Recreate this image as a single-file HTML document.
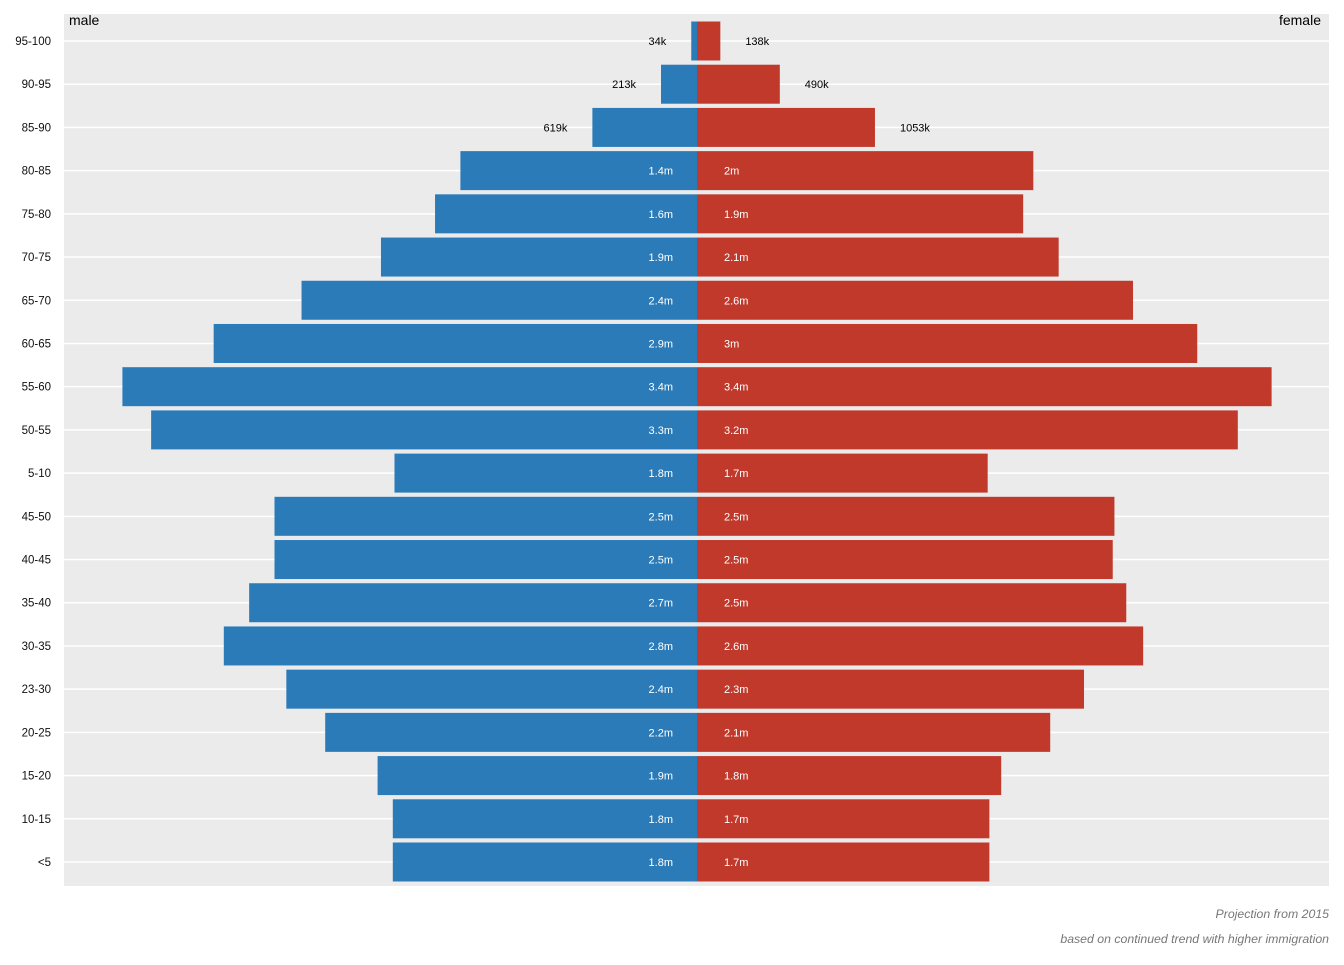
<!DOCTYPE html>
<html><head><meta charset="utf-8"><style>
body{margin:0;background:#fff;font-family:"Liberation Sans",sans-serif}
</style></head><body>
<svg id="chart" width="1344" height="960" xmlns="http://www.w3.org/2000/svg" font-family="Liberation Sans, sans-serif"></svg>
<script>
const categories=["95-100","90-95","85-90","80-85","75-80","70-75","65-70","60-65","55-60","50-55","5-10","45-50","40-45","35-40","30-35","23-30","20-25","15-20","10-15","<5"];
const maleValues=[0.034,0.213,0.619,1.40,1.55,1.87,2.34,2.86,3.40,3.23,1.79,2.50,2.50,2.65,2.80,2.43,2.20,1.89,1.80,1.80];
const femaleValues=[0.138,0.490,1.053,1.99,1.93,2.14,2.58,2.96,3.40,3.20,1.72,2.47,2.46,2.54,2.64,2.29,2.09,1.80,1.73,1.73];
const maleLabels=["34k","213k","619k","1.4m","1.6m","1.9m","2.4m","2.9m","3.4m","3.3m","1.8m","2.5m","2.5m","2.7m","2.8m","2.4m","2.2m","1.9m","1.8m","1.8m"];
const femaleLabels=["138k","490k","1053k","2m","1.9m","2.1m","2.6m","3m","3.4m","3.2m","1.7m","2.5m","2.5m","2.5m","2.6m","2.3m","2.1m","1.8m","1.7m","1.7m"];
const svg=document.getElementById('chart');const NS="http://www.w3.org/2000/svg";
function mk(t,a,p){const e=document.createElementNS(NS,t);for(const k in a)e.setAttribute(k,a[k]);(p||svg).appendChild(e);return e;}
const cx=697, pxPerM=169;
const xs=v=>v*pxPerM;
const y0=41, step=(862-41)/(categories.length-1), bh=39;
const ys=i=>y0+i*step;
const bg=mk('rect',{x:64,y:14,width:1265,height:872,fill:'#ebebeb'});


categories.forEach((c,i)=>{
  const y=ys(i);
  const g=mk('line',{x1:64,x2:1329,y1:y,y2:y,stroke:'#fff','stroke-width':1.5});
  
  
  const t=mk('text',{x:51,y:y+4,'text-anchor':'end','font-size':11.5,fill:'#111'});t.textContent=c;
  
  
});
categories.forEach((c,i)=>{
  const y=ys(i);
  const mw=xs(maleValues[i]), fw=xs(femaleValues[i]);
  const mb=mk('rect',{x:cx-mw,y:y-bh/2,width:mw,height:bh,fill:'#2b7bb9'});
  
  
  const fb=mk('rect',{x:cx,y:y-bh/2,width:fw,height:bh,fill:'#c0392b'});
  
  
  const small=maleValues[i]<1;
  const ml=mk('text',{x:small?cx-mw-25:673,y:y+4,'text-anchor':'end','font-size':11,fill:small?'#000':'#fff'});ml.textContent=maleLabels[i];
  
  
  const fsmall=femaleValues[i]<1.2&&femaleLabels[i].endsWith('k');
  const fl=mk('text',{x:fsmall?cx+fw+25:724,y:y+4,'text-anchor':'start','font-size':11,fill:fsmall?'#000':'#fff'});fl.textContent=femaleLabels[i];
  
  
});
const m=mk('text',{x:69,y:25,'font-size':14,fill:'#000'});m.textContent='male';


const f=mk('text',{x:1321,y:25,'font-size':14,'text-anchor':'end',fill:'#000'});f.textContent='female';


const c1=mk('text',{x:1329,y:918,'font-size':12.3,'text-anchor':'end','font-style':'italic',fill:'#777'});c1.textContent='Projection from 2015';


const c2=mk('text',{x:1329,y:943,'font-size':12.3,'text-anchor':'end','font-style':'italic',fill:'#777'});c2.textContent='based on continued trend with higher immigration';


</script>
</body></html>
